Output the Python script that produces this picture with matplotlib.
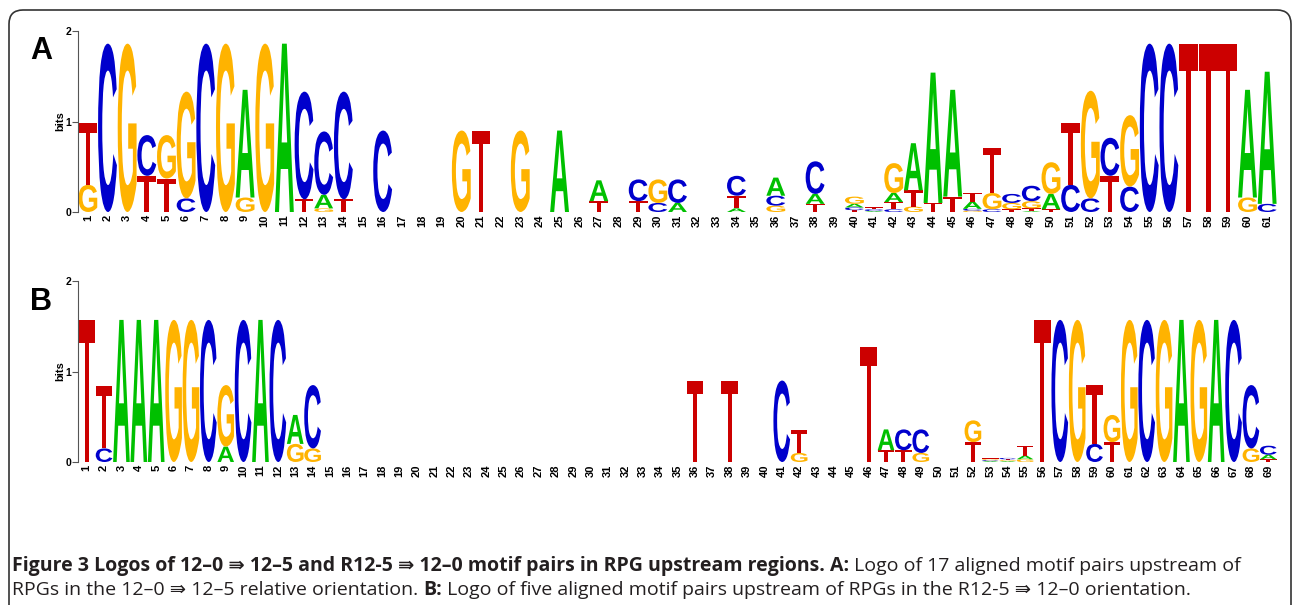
import matplotlib
matplotlib.use('Agg')
import matplotlib.pyplot as plt
import matplotlib.transforms as mtransforms
from matplotlib.textpath import TextPath
from matplotlib.patches import PathPatch, FancyBboxPatch
from matplotlib.font_manager import FontProperties

# ---- data: information content (bits) per base and position ----
# panel A, positions 1-61
a_A = [0, 0, 0, 0, 0, 0, 0, 0, 1.19, 0,
       1.86, 0, 0.15, 0, 0, 0, 0, 0, 0, 0,
       0, 0, 0, 0, 0.90, 0, 0.23, 0, 0, 0,
       0.10, 0, 0, 0.04, 0, 0.20, 0, 0.11, 0, 0.04,
       0.01, 0.10, 0.52, 1.44, 1.18, 0.08, 0, 0, 0.01, 0.17,
       0, 0, 0, 0, 0, 0, 0, 0, 0, 1.19,
       1.46]
c_A = [0, 1.86, 0, 0.45, 0, 0.15, 1.86, 0, 0, 0,
       0, 1.19, 0.70, 1.19, 0, 0.90, 0, 0, 0, 0,
       0, 0, 0, 0, 0, 0, 0, 0, 0.24, 0.10,
       0.26, 0, 0, 0.22, 0, 0.11, 0, 0.36, 0, 0.03,
       0.02, 0.03, 0, 0, 0, 0.02, 0.03, 0.10, 0.17, 0,
       0.30, 0.15, 0.42, 0.28, 1.86, 1.86, 0, 0, 0, 0,
       0.09]
g_A = [0.30, 0, 1.86, 0, 0.48, 1.18, 0, 1.86, 0.16, 1.86,
       0, 0, 0.04, 0, 0, 0, 0, 0, 0, 0.90,
       0, 0, 0.90, 0, 0, 0, 0, 0, 0, 0.26,
       0, 0, 0, 0, 0, 0.07, 0, 0, 0, 0.08,
       0, 0.33, 0.06, 0, 0, 0.015, 0.18, 0.07, 0.08, 0.35,
       0, 1.19, 0, 0.79, 0, 0, 0, 0, 0, 0.16,
       0]
t_A = [0.68, 0, 0, 0.40, 0.37, 0, 0, 0, 0, 0,
       0, 0.14, 0, 0.14, 0, 0, 0, 0, 0, 0,
       0.90, 0, 0, 0, 0, 0, 0.12, 0, 0.12, 0,
       0, 0, 0, 0.14, 0, 0, 0, 0.09, 0, 0.02,
       0.02, 0.08, 0.18, 0.10, 0.17, 0.10, 0.50, 0.03, 0.03, 0.03,
       0.68, 0, 0.40, 0, 0, 0, 1.86, 1.86, 1.86, 0,
       0]

# panel B, positions 1-69
a_B = [0, 0, 1.57, 1.57, 1.57, 0, 0, 0, 0.17, 0,
       1.57, 0, 0.32, 0, 0, 0, 0, 0, 0, 0,
       0, 0, 0, 0, 0, 0, 0, 0, 0, 0,
       0, 0, 0, 0, 0, 0, 0, 0, 0, 0,
       0, 0, 0, 0, 0, 0, 0.23, 0, 0, 0,
       0, 0, 0.01, 0.01, 0.04, 0, 0, 0, 0, 0,
       0, 0, 0, 1.57, 0, 1.57, 0, 0, 0.05]
c_B = [0, 0.15, 0, 0, 0, 0, 0, 1.57, 0, 1.57,
       0, 1.57, 0, 0.70, 0, 0, 0, 0, 0, 0,
       0, 0, 0, 0, 0, 0, 0, 0, 0, 0,
       0, 0, 0, 0, 0, 0, 0, 0, 0, 0,
       0.90, 0, 0, 0, 0, 0, 0, 0.23, 0.26, 0,
       0, 0, 0.01, 0.015, 0, 0, 1.57, 0, 0.20, 0,
       0, 1.57, 0, 0, 0, 0, 1.57, 0.70, 0.10]
g_B = [0, 0, 0, 0, 0, 1.57, 1.57, 0, 0.68, 0,
       0, 0, 0.20, 0.15, 0, 0, 0, 0, 0, 0,
       0, 0, 0, 0, 0, 0, 0, 0, 0, 0,
       0, 0, 0, 0, 0, 0, 0, 0, 0, 0,
       0, 0.10, 0, 0, 0, 0, 0, 0, 0.10, 0,
       0, 0.24, 0.01, 0.01, 0.03, 0, 0, 1.57, 0, 0.30,
       1.57, 0, 1.57, 0, 1.57, 0, 0, 0.15, 0]
t_B = [1.57, 0.69, 0, 0, 0, 0, 0, 0, 0, 0,
       0, 0, 0, 0, 0, 0, 0, 0, 0, 0,
       0, 0, 0, 0, 0, 0, 0, 0, 0, 0,
       0, 0, 0, 0, 0, 0.90, 0, 0.90, 0, 0,
       0, 0.25, 0, 0, 0, 1.27, 0.13, 0.13, 0, 0,
       0, 0.22, 0.01, 0.01, 0.11, 1.57, 0, 0, 0.65, 0.22,
       0, 0, 0, 0, 0, 0, 0, 0, 0.03]

caption1 = [("Figure 3 Logos of 12\u20130 \u21db 12\u20135 and R12-5 \u21db 12\u20130 motif pairs "
             "in RPG upstream regions. A:", 'bold'),
            (" Logo of 17 aligned motif pairs upstream of", 'normal')]
caption2 = [("RPGs in the 12\u20130 \u21db 12\u20135 relative orientation. ", 'normal'),
            ("B:", 'bold'),
            (" Logo of five aligned motif pairs upstream of RPGs in the R12-5 \u21db 12\u20130 orientation.",
             'normal')]

colors = {'A': '#00c000', 'C': '#0000cc', 'G': '#ffb300', 'T': '#cc0000'}

W, H = 1293, 605
fig = plt.figure(figsize=(W / 100, H / 100), dpi=100)

letter_font = FontProperties(family='Liberation Sans', weight='bold')
glyphs = {b: TextPath((0, 0), b, size=1, prop=letter_font) for b in 'ACGT'}


def draw_logo(ax, cols):
    n = len(cols['A'])
    for i in range(n):
        stack = sorted([(cols[b][i], b) for b in 'ACGT'], key=lambda p: p[0])
        y = 0
        for h, b in stack:
            if h <= 0:
                continue
            p = glyphs[b]
            bb = p.get_extents()
            w = 0.96
            tr = (mtransforms.Affine2D().translate(-bb.x0, -bb.y0)
                  .scale(w / bb.width, h / bb.height)
                  .translate(i + 1 - w / 2, y))
            ax.add_patch(PathPatch(tr.transform_path(p), fc=colors[b], ec='none', lw=0))
            y += h
    ax.set_xlim(0.5, n + 0.5)
    ax.set_ylim(0, 2)
    for s in ['top', 'right', 'bottom']:
        ax.spines[s].set_visible(False)
    ax.spines['left'].set_color('#555555')
    ax.spines['left'].set_linewidth(0.8)
    ax.set_yticks([0, 1, 2])
    ax.set_yticklabels(['0', '1', '2'], fontsize=7.5, fontweight='bold',
                       family='Liberation Sans')
    ax.tick_params(axis='y', length=4, width=0.8, color='#555555', pad=1)
    ax.set_xticks(range(1, n + 1))
    ax.set_xticklabels([str(k) for k in range(1, n + 1)], rotation=90,
                       fontsize=8, fontweight='bold', family='Liberation Sans')
    ax.tick_params(axis='x', length=0, pad=2)
    ax.set_ylabel('bits', fontsize=8, fontweight='bold', family='Liberation Sans')
    ax.yaxis.set_label_coords(-13 / 1199, 0.5)
    ax.patch.set_alpha(0)


axA = fig.add_axes([78 / W, 1 - 212 / H, 1199 / W, 181 / H])
draw_logo(axA, {'A': a_A, 'C': c_A, 'G': g_A, 'T': t_A})
axB = fig.add_axes([78 / W, 1 - 462 / H, 1199 / W, 181 / H])
draw_logo(axB, {'A': a_B, 'C': c_B, 'G': g_B, 'T': t_B})

fig.text(41 / W, 1 - 51 / H, 'A', fontsize=22, fontweight='bold',
         family='Liberation Sans', ha='center', va='center')
fig.text(41 / W, 1 - 302 / H, 'B', fontsize=22, fontweight='bold',
         family='Liberation Sans', ha='center', va='center')

# frame round the figure
frame = FancyBboxPatch((9, -40), 1282, 635, boxstyle='round,pad=0,rounding_size=14',
                       transform=mtransforms.IdentityTransform(),
                       fc='none', ec='#333333', lw=1.2)
fig.add_artist(frame)

# caption, drawn run by run
cap_family = ['Open Sans', 'DejaVu Sans']
renderer = fig.canvas.get_renderer()


def run_width(s, weight, size):
    t1 = fig.text(0, 0, '|' + s + '|', fontsize=size, fontweight=weight, family=cap_family)
    t2 = fig.text(0, 0, '||', fontsize=size, fontweight=weight, family=cap_family)
    w = t1.get_window_extent(renderer).width - t2.get_window_extent(renderer).width
    t1.remove()
    t2.remove()
    return w


size = 12
total = sum(run_width(s, wt, size) for s, wt in caption1)
size = size * (1233 - 12) / total


def draw_line(runs, ybase):
    x = 12
    for s, wt in runs:
        fig.text(x / W, 1 - ybase / H, s, fontsize=size, fontweight=wt,
                 family=cap_family, color='#231f20', va='baseline', ha='left')
        x += run_width(s, wt, size)


draw_line(caption1, 571)
draw_line(caption2, 595)

fig.savefig('out.png', dpi=100)
